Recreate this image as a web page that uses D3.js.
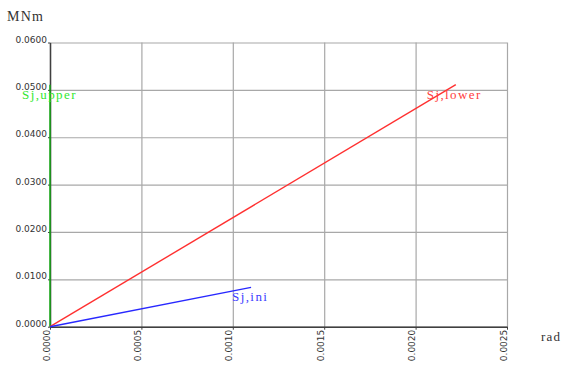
<!DOCTYPE html>
<html><head><meta charset="utf-8">
<script src="https://cdn.jsdelivr.net/npm/d3@7"></script>
<style>
html,body{margin:0;padding:0;background:#fff;}
svg{display:block;}
</style></head>
<body>
<svg id="chart" width="565" height="367"></svg>
<script>
const xTicks = [0, 0.0005, 0.0010, 0.0015, 0.0020, 0.0025];
const yTicks = [0, 0.01, 0.02, 0.03, 0.04, 0.05, 0.06];
const seriesNames = ["Sj,upper", "Sj,lower", "Sj,ini"];
const upperX = [0, 0];
const upperY = [0, 0.0511];
const lowerX = [0, 0.00222];
const lowerY = [0, 0.0511];
const iniX = [0, 0.00110];
const iniY = [0, 0.0083];
const xUnit = "rad";
const yUnit = "MNm";

const svg = d3.select("#chart");
const L = 50, R = 507, T = 42.5, B = 326.7;
const x = d3.scaleLinear().domain([0, 0.0025]).range([L, R]);
const y = d3.scaleLinear().domain([0, 0.06]).range([B, T]);
const fmt = d3.format(".4f");

// grid
const gx = svg.append("g").attr("transform", `translate(0,${B})`)
  .call(d3.axisBottom(x).tickValues(xTicks).tickSize(-(B - T)).tickFormat(""));
gx.select(".domain").remove();
gx.selectAll("line").attr("stroke", "#a8a8a8").attr("stroke-width", 1.2);
const gy = svg.append("g").attr("transform", `translate(${L},0)`)
  .call(d3.axisLeft(y).tickValues(yTicks).tickSize(-(R - L)).tickFormat(""));
gy.select(".domain").remove();
gy.selectAll("line").attr("stroke", "#a8a8a8").attr("stroke-width", 1.2);

// axes
const ax = svg.append("g").attr("transform", `translate(0,${B})`)
  .call(d3.axisBottom(x).tickValues(xTicks).tickSize(3).tickSizeOuter(0).tickFormat(fmt));
ax.select(".domain").attr("stroke", "#404040").attr("stroke-width", 1.5);
ax.selectAll("line").attr("stroke", "#404040");
ax.selectAll("text")
  .attr("font-family", "DejaVu Sans").attr("font-size", 9).attr("fill", "#333")
  .attr("text-anchor", "end").attr("dy", null).attr("y", 0).attr("x", 0)
  .attr("transform", "translate(-1,3) rotate(-90)");

const ay = svg.append("g").attr("transform", `translate(${L},0)`)
  .call(d3.axisLeft(y).tickValues(yTicks).tickSize(2).tickSizeOuter(0).tickFormat(fmt));
ay.select(".domain").attr("stroke", "#404040").attr("stroke-width", 1.5);
ay.selectAll("line").attr("stroke", "#404040");
ay.selectAll("text")
  .attr("font-family", "DejaVu Sans").attr("font-size", 9).attr("fill", "#333")
  .attr("x", -3).attr("dy", "-0.5");

// series
const line = d3.line().x(d => x(d[0])).y(d => y(d[1]));
const series = [
  {name: seriesNames[0], xs: upperX, ys: upperY, color: "#10b010", lcolor: "#30e830", dx: -28, dy: 14},
  {name: seriesNames[1], xs: lowerX, ys: lowerY, color: "#ff3030", lcolor: "#ff4040", dx: -29, dy: 14},
  {name: seriesNames[2], xs: iniX, ys: iniY, color: "#2828ff", lcolor: "#3c3cff", dx: -19, dy: 14}
];
series.forEach(s => {
  const pts = s.xs.map((v, i) => [v, s.ys[i]]);
  svg.append("path").attr("d", line(pts)).attr("fill", "none")
    .attr("stroke", s.color).attr("stroke-width", 1.4);
  const last = pts[pts.length - 1];
  svg.append("text").attr("x", x(last[0]) + s.dx).attr("y", y(last[1]) + s.dy)
    .attr("font-family", "Liberation Serif").attr("font-size", 13)
    .attr("letter-spacing", 1.4).attr("fill", s.lcolor).text(s.name);
});

// unit labels
svg.append("text").attr("x", 7).attr("y", 21).attr("font-family", "Liberation Serif")
  .attr("font-size", 14).attr("letter-spacing", 1.2).attr("fill", "#333").text(yUnit);
svg.append("text").attr("x", 541).attr("y", 341).attr("font-family", "Liberation Serif")
  .attr("font-size", 13).attr("letter-spacing", 1.2).attr("fill", "#333").text(xUnit);
</script>
</body></html>
